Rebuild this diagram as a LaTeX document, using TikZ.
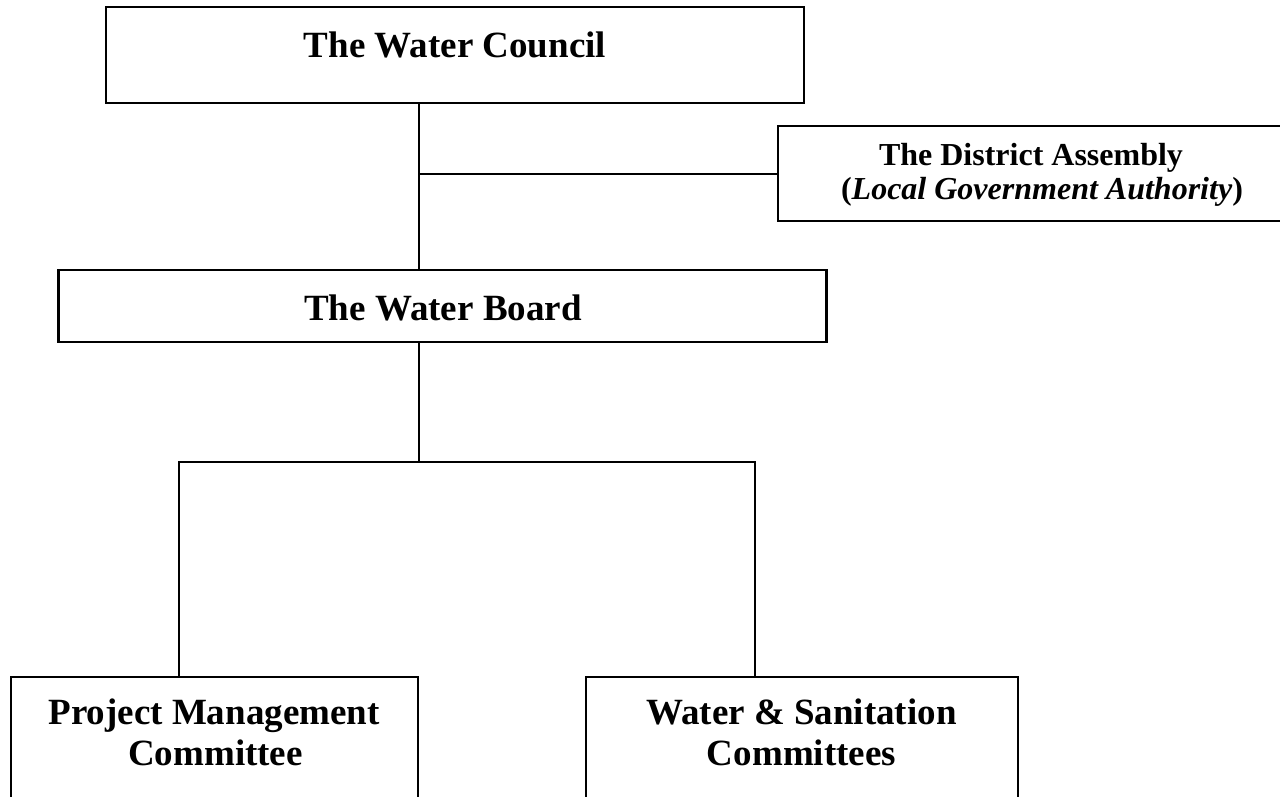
\documentclass[tikz,border=0pt]{standalone}
\usepackage{fontspec}
\setmainfont{Liberation Serif}
\begin{document}
\begin{tikzpicture}[x=1pt,y=-1pt,
  box/.style={draw=black,line width=2.2pt,rectangle,inner sep=0pt,fill=none},
  conn/.style={draw=black,line width=2pt},
  big/.style={font=\fontsize{37}{42}\selectfont\bfseries,inner sep=0pt,anchor=base},
  mid/.style={font=\fontsize{32}{37}\selectfont\bfseries,inner sep=0pt,anchor=base}]
\useasboundingbox (0,0) rectangle (1280,797);
% boxes
\node[box,minimum width=698pt,minimum height=96pt] (council) at (455,55) {};
\node[box,minimum width=516pt,minimum height=95pt] (district) at (1036,173.5) {};
\node[box,minimum width=768pt,minimum height=72pt] (board) at (442.5,306) {};
\node[box,minimum width=407pt,minimum height=150pt] (pmc) at (214.5,752) {};
\node[box,minimum width=432pt,minimum height=150pt] (wsc) at (802,752) {};
% texts
\node[big] (councilT) at (455,58) {The Water Council};
\node[mid] (districtT1) at (1031,166) {The District Assembly};
\node[mid] (districtT2) at (1042,199) {(\textit{Local Government Authority})};
\node[big] (boardT) at (443,320) {The Water Board};
\node[big] (pmcT1) at (214,724) {Project Management};
\node[big] (pmcT2) at (215.5,765) {Committee};
\node[big] (wscT1) at (801.5,724) {Water \& Sanitation};
\node[big] (wscT2) at (801.5,765) {Committees};
% connectors
\coordinate (j1) at (419,174);
\coordinate (j2) at (419,462);
\coordinate (jl) at (179,462);
\coordinate (jr) at (755,462);
\draw[conn] (council.south -| j1) -- (board.north -| j1);
\draw[conn] (j1) -- (district.west |- j1);
\draw[conn] (board.south -| j2) -- (j2);
\draw[conn] (pmc.north -| jl) -- (jl) -- (jr) -- (wsc.north -| jr);
\end{tikzpicture}
\end{document}
